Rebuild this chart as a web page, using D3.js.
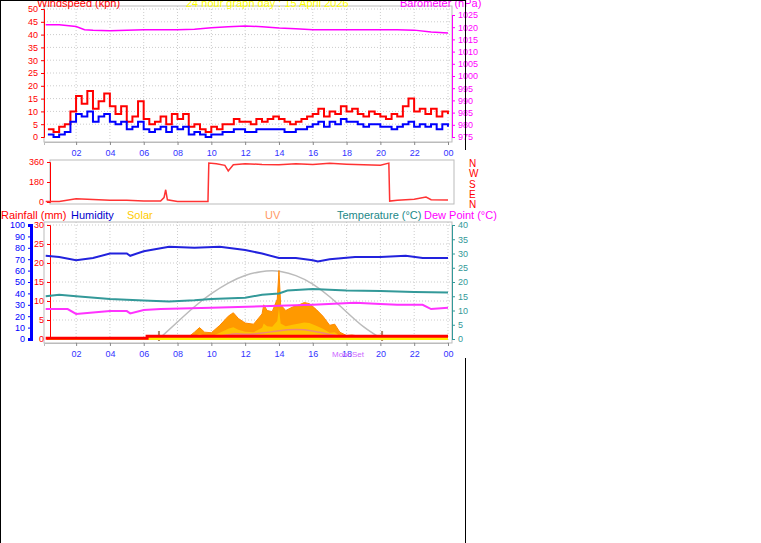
<!DOCTYPE html>
<html><head><meta charset="utf-8">
<script src="https://cdn.jsdelivr.net/npm/d3@7"></script>
<style>body{margin:0;background:#fff}svg{display:block;font-family:"Liberation Sans",Arial,sans-serif}</style>
</head><body><svg id="c" width="761" height="543"></svg>
<script>
const hourTicks = ["02","04","06","08","10","12","14","16","18","20","22","00"];
// wind, 20-minute steps from 00:20
const gust = [3,2,4,5,10,16,13,18,11,14,17,12,9,12,6,8,14,7,5,6,8,5,9,7,9,4,5,3,2,4,3,5,5,7,6,6,5,7,6,7,8,7,6,5,6,7,8,9,11,8,10,9,12,10,11,9,8,10,9,8,7,9,8,12,15,10,11,9,11,8,10,9];
const avg  = [1,0,1,2,6,9,8,10,6,8,9,6,5,6,3,4,6,3,2,3,4,2,4,3,4,1,2,1,0,1,1,2,2,3,3,2,2,3,3,3,3,3,2,2,3,3,4,5,6,4,6,5,7,6,6,5,4,5,5,4,4,3,4,5,6,4,5,4,5,3,5,4];
const baroHours = [0.2,1,2,2.5,3,4,5,6,8,9,10,11,12,13,14,15,16,18,20,21,22,23,24];
const baro = [1021,1021,1020.3,1019,1018.7,1018.5,1018.7,1019,1019,1019.2,1019.8,1020.2,1020.5,1020.2,1019.7,1019.4,1019,1019,1019,1019,1018.8,1018,1017.6];
const dirHours = [0.2,1,2,4,5,6,7,7.2,7.3,7.4,8,9.8,9.85,10.3,10.8,11,11.3,12,13,14,15,16,17,18,19,20,20.5,20.55,21,22,22.7,23,24];
const dir = [5,5,30,15,15,10,8,40,110,20,5,5,350,345,330,280,335,345,338,335,345,338,348,340,335,330,350,8,15,25,45,20,18];
const humHours = [0.2,1,2,3,4,5,5.2,6,7.5,9,10.5,12,13,14,15,16,16.3,17,18.5,20,21.5,22.5,24];
const hum = [73,72,69,71,75,75,73,77,81,80,81,78,75,71,71,69,68,70,72,72,73,71,71];
const tempHours = [0.2,1,2,4,6,7.5,9,10,12,13,14,14.5,16,18,20,22,24];
const temp = [15,15.5,15,14,13.5,13.2,13.6,14,14.5,15.5,16,17,17.5,17,16.8,16.5,16.3];
const dewHours = [0.2,1.5,2,3,4,5,5.2,6,7,10,13,16,18.5,20,21,22.5,23,24];
const dew = [10.5,10.5,8.8,9.3,9.8,9.8,9,10.2,10.5,11,11.5,12,12.7,12.3,12,12,10.5,11];
const solarHours = [5.5,8.5,9,9.3,9.6,10,10.5,11,11.3,11.6,12,12.5,13,13.1,13.3,13.6,13.9,14,14.1,14.4,14.8,15.2,15.5,15.8,16.2,16.6,17,17.3,17.6,18,18.3,18.8,19.2,19.5];
const solar = [0,0,60,100,60,55,120,200,230,180,140,130,220,300,250,240,350,600,300,250,280,300,320,310,260,200,120,130,60,30,35,25,5,0];
const uvHours = [8.5,10,11,11.5,12,13,14,15,16,17,18,19];
const uv = [0,0.5,1.5,2,1.5,2,3,3.5,3,1.5,0.5,0];
const rainHours = [0.2,5.8,6.2,24];
const rain = [0.2,0.2,0.7,0.7];
const sunHours = [6.9,8,9,10,11,12,13,13.6,14,15,16,17,18,19,20.1];
const sun = [0,6,11.5,16,19.8,22.5,23.8,24,23.9,22.5,19.5,15,9.5,4,0];

const svg = d3.select("#c");
const x = d3.scaleLinear().domain([0.1,24]).range([44,448]);
const tickVals = d3.range(2,25,2);

function grid(g, y, vals, top, bot){
  g.selectAll(null).data(tickVals).join("line").attr("x1",d=>x(d)).attr("x2",d=>x(d)).attr("y1",top).attr("y2",bot)
   .attr("stroke","#ccc").attr("stroke-dasharray","1,2");
  g.selectAll(null).data(vals).join("line").attr("x1",44).attr("x2",452).attr("y1",d=>y(d)).attr("y2",d=>y(d))
   .attr("stroke","#ccc").attr("stroke-dasharray","1,2");
}
function frame(top,bot){
  svg.append("rect").attr("x",44).attr("y",top).attr("width",408).attr("height",bot-top).attr("fill","none").attr("stroke","#bbb");
}
function xaxis(yPos){
  const a = d3.axisBottom(x).tickValues(tickVals).tickFormat((d,i)=>hourTicks[i]).tickSize(3);
  const g = svg.append("g").attr("transform",`translate(0,${yPos})`).call(a);
  g.select(".domain").attr("stroke","#bbb");
  g.selectAll("line").attr("stroke","#888");
  g.selectAll("text").attr("fill","#33f").attr("font-size",9).attr("dy","0.9em");
}
function styleAxis(g,col,w){
  g.select(".domain").attr("stroke",col).attr("stroke-width",w||1);
  g.selectAll("line").attr("stroke",col);
  g.selectAll("text").attr("fill",col).attr("font-size",9);
}

const yW = d3.scaleLinear().domain([0,50]).range([137,9]);
const yB = d3.scaleLinear().domain([975,1025]).range([137,15]);
grid(svg.append("g"), yW, d3.range(5,51,5), 6, 142);
frame(6,142);
styleAxis(svg.append("g").attr("transform","translate(44,0)").call(d3.axisLeft(yW).tickValues(d3.range(0,51,5)).tickSize(3)),"#f00");
styleAxis(svg.append("g").attr("transform","translate(452,0)").call(d3.axisRight(yB).tickValues(d3.range(975,1026,5)).tickFormat(d3.format("d")).tickSize(3)),"#f0f");
xaxis(142);
const wx = (d,i)=>x(0.33+i/3);
svg.append("path").attr("d",d3.line().x(wx).y(d=>yW(d)).curve(d3.curveStepAfter)(gust)).attr("fill","none").attr("stroke","#f00").attr("stroke-width",2);
svg.append("path").attr("d",d3.line().x(wx).y(d=>yW(d)).curve(d3.curveStepAfter)(avg)).attr("fill","none").attr("stroke","#00f").attr("stroke-width",2);
svg.append("path").attr("d",d3.line().x((d,i)=>x(baroHours[i])).y(d=>yB(d))(baro)).attr("fill","none").attr("stroke","#f0f").attr("stroke-width",1.5);
svg.append("text").attr("x",37).attr("y",7).attr("fill","#f00").attr("font-size",11).text("Windspeed (kph)");
svg.append("text").attr("x",186).attr("y",7).attr("fill","#ff0").attr("font-size",11).text("24 hour graph day : 15 April 2026");
svg.append("text").attr("x",400).attr("y",7).attr("fill","#f0f").attr("font-size",11).text("Barometer (hPa)");

const yD = d3.scaleLinear().domain([0,360]).range([202,162]);
svg.append("rect").attr("x",50).attr("y",160).attr("width",404).attr("height",44).attr("fill","none").attr("stroke","#bbb");
styleAxis(svg.append("g").attr("transform","translate(50,0)").call(d3.axisLeft(yD).tickValues([0,180,360]).tickSize(3)),"#f00");
svg.append("path").attr("d",d3.line().x((d,i)=>x(dirHours[i])).y(d=>yD(d))(dir)).attr("fill","none").attr("stroke","#f33").attr("stroke-width",1.5);
["N","W","S","E","N"].forEach((t,i)=>svg.append("text").attr("x",469).attr("y",167+i*10.3).attr("fill","#f00").attr("font-size",10).text(t));

const yT = d3.scaleLinear().domain([0,40]).range([339,225]);
const yH = d3.scaleLinear().domain([0,100]).range([339,225]);
const yR = d3.scaleLinear().domain([0,30]).range([339,225]);
const yS = d3.scaleLinear().domain([0,1000]).range([339,225]);
grid(svg.append("g"), yR, d3.range(5,31,5), 222, 343);
frame(222,343);
styleAxis(svg.append("g").attr("transform","translate(31,0)").call(d3.axisLeft(yH).tickValues(d3.range(0,101,10)).tickSize(3)),"#00f",3);
styleAxis(svg.append("g").attr("transform","translate(50,0)").call(d3.axisLeft(yR).tickValues(d3.range(0,31,5)).tickSize(3)),"#f00");
styleAxis(svg.append("g").attr("transform","translate(452,0)").call(d3.axisRight(yT).tickValues(d3.range(0,41,5)).tickSize(3)),"#399");
xaxis(343);
svg.append("text").attr("x",332).attr("y",357).attr("fill","#c6f").attr("font-size",8).text("MoonSet");
svg.append("path").attr("d",d3.line().x((d,i)=>x(sunHours[i])).y(d=>yT(d)).curve(d3.curveBasis)(sun)).attr("fill","none").attr("stroke","#bbb").attr("stroke-width",1.5);
[6.9,20.1].forEach(h=>svg.append("line").attr("x1",x(h)).attr("x2",x(h)).attr("y1",yT(0)-8).attr("y2",yT(0)+2).attr("stroke","#a86").attr("stroke-width",2));
svg.append("path").attr("d",d3.area().x((d,i)=>x(solarHours[i])).y0(yS(0)).y1(d=>yS(d))(solar)).attr("fill","#f90").attr("stroke","#f80");
svg.append("path").attr("d",d3.area().x((d,i)=>x(solarHours[i])).y0(yS(0)).y1(d=>yS(d*0.45))(solar)).attr("fill","#fc0").attr("opacity",0.8);
svg.append("path").attr("d",d3.line().x((d,i)=>x(uvHours[i])).y(d=>yT(d)).curve(d3.curveBasis)(uv)).attr("fill","none").attr("stroke","#e87").attr("stroke-width",1.5);
svg.append("rect").attr("x",x(0.3)).attr("y",yR(0)-2).attr("width",x(24)-x(0.3)).attr("height",3).attr("fill","#fe0");
svg.append("path").attr("d",d3.line().x((d,i)=>x(rainHours[i])).y(d=>yR(d)).curve(d3.curveStepAfter)(rain)).attr("fill","none").attr("stroke","#f00").attr("stroke-width",3);
svg.append("path").attr("d",d3.line().x((d,i)=>x(humHours[i])).y(d=>yH(d))(hum)).attr("fill","none").attr("stroke","#22d").attr("stroke-width",2);
svg.append("path").attr("d",d3.line().x((d,i)=>x(tempHours[i])).y(d=>yT(d))(temp)).attr("fill","none").attr("stroke","#399").attr("stroke-width",2);
svg.append("path").attr("d",d3.line().x((d,i)=>x(dewHours[i])).y(d=>yT(d))(dew)).attr("fill","none").attr("stroke","#f3f").attr("stroke-width",2);
[["Rainfall (mm)",1,"#f00"],["Humidity",71,"#00c"],["Solar",127,"#fc0"],["UV",265,"#f96"],["Temperature (°C)",337,"#288"],["Dew Point (°C)",424,"#f0f"]]
 .forEach(([t,xx,c])=>svg.append("text").attr("x",xx).attr("y",219).attr("fill",c).attr("font-size",11).text(t));

svg.append("line").attr("x1",0.5).attr("x2",0.5).attr("y1",0).attr("y2",543).attr("stroke","#000");
svg.append("line").attr("x1",465.5).attr("x2",465.5).attr("y1",0).attr("y2",150).attr("stroke","#000");
svg.append("line").attr("x1",465.5).attr("x2",465.5).attr("y1",358).attr("y2",543).attr("stroke","#000");
svg.append("line").attr("x1",0).attr("x2",466).attr("y1",0.5).attr("y2",0.5).attr("stroke","#000");
</script></body></html>
